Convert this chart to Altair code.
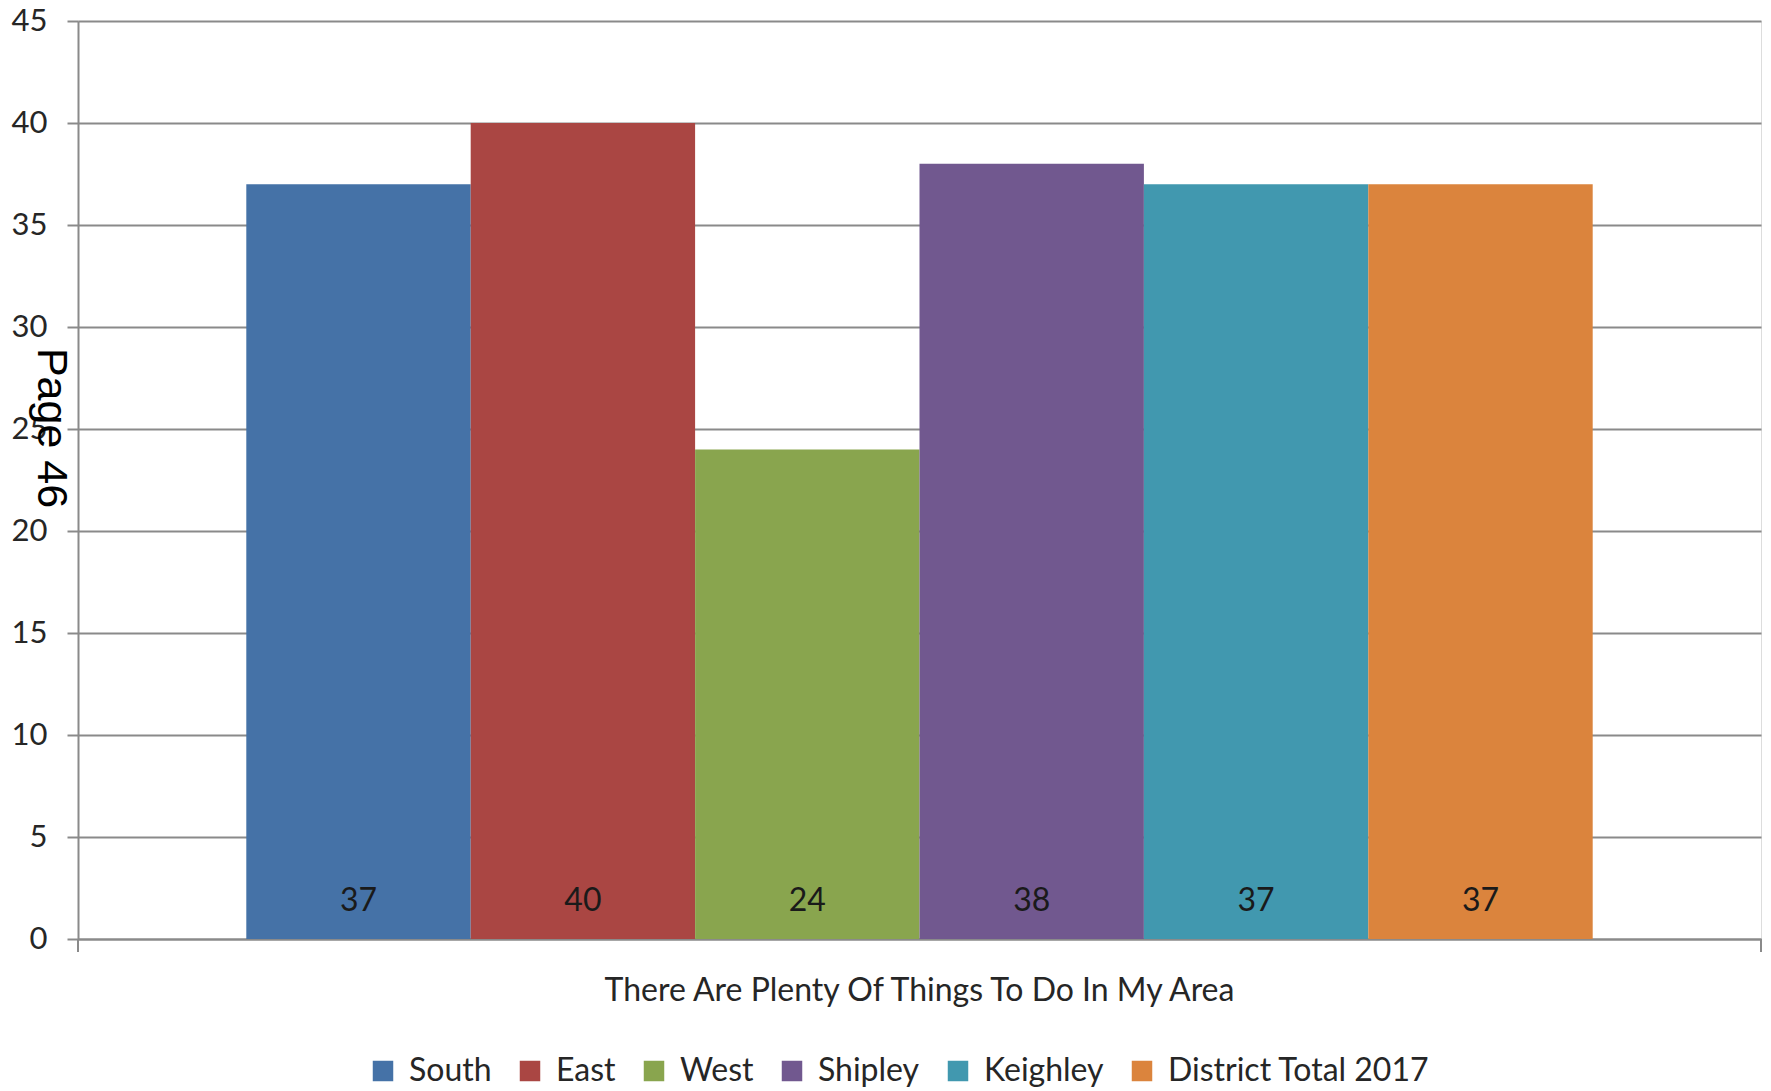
import altair as alt
import pandas as pd

# Survey results: share agreeing with the statement, by constituency area
question = "There Are Plenty Of Things To Do In My Area"
areas = ["South", "East", "West", "Shipley", "Keighley", "District Total 2017"]
values = [37, 40, 24, 38, 37, 37]
colors = ["#4572A7", "#AA4643", "#89A54E", "#71588F", "#4198AF", "#DB843D"]
y_ticks = [0, 5, 10, 15, 20, 25, 30, 35, 40, 45]

FONT = "Lato, Liberation Sans, sans-serif"
GRID = "#8a8a8a"
TEXT = "#262626"

W, H = 1683, 918

df = pd.DataFrame({"question": question, "area": areas, "value": values})
df["base"] = 0

base = alt.Chart(df).encode(
    x=alt.X(
        "question:N",
        scale=alt.Scale(paddingInner=0, paddingOuter=0),
        axis=alt.Axis(
            title=None,
            ticks=False,
            labelFontSize=32,
            labelFont=FONT,
            labelColor=TEXT,
            labelPadding=36,
            labelAngle=0,
            labelLimit=2000,
            domainColor=GRID,
            domainWidth=2,
        ),
    ),
    xOffset=alt.XOffset(
        "area:N", sort=areas, scale=alt.Scale(paddingInner=0, paddingOuter=0.75)
    ),
)

bars = base.mark_bar().encode(
    y=alt.Y(
        "value:Q",
        scale=alt.Scale(domain=[0, 45], nice=False),
        axis=alt.Axis(
            title=None,
            values=y_ticks,
            tickSize=11,
            tickColor=GRID,
            tickWidth=2,
            labelFontSize=31,
            labelFont=FONT,
            labelColor=TEXT,
            labelPadding=20,
            grid=True,
            gridColor=GRID,
            gridWidth=2,
            domainColor=GRID,
            domainWidth=2,
        ),
    ),
    color=alt.Color(
        "area:N",
        sort=areas,
        scale=alt.Scale(domain=areas, range=colors),
        legend=alt.Legend(
            title=None,
            orient="none",
            direction="horizontal",
            legendX=289,
            legendY=1034,
            symbolType="square",
            symbolSize=420,
            symbolStrokeWidth=0,
            labelFontSize=32,
            labelFont=FONT,
            labelColor=TEXT,
            labelOffset=10,
            columnPadding=22,
            labelLimit=400,
        ),
    ),
)

labels = base.mark_text(
    baseline="alphabetic", dy=-28, fontSize=32, font=FONT, color="#1a1a1a"
).encode(
    y=alt.Y("base:Q"),
    text=alt.Text("value:Q"),
)

# small end ticks below the category axis
tick_data = pd.DataFrame({"k": [0]})
left_tick = alt.Chart(tick_data).mark_rule(color=GRID, strokeWidth=2).encode(
    x=alt.value(0), y=alt.value(H), y2=alt.value(H + 13)
)
right_tick = alt.Chart(tick_data).mark_rule(color=GRID, strokeWidth=2).encode(
    x=alt.value(W), y=alt.value(H), y2=alt.value(H + 13)
)

page = alt.Chart(pd.DataFrame({"t": ["Page 46"]})).mark_text(
    angle=90,
    align="center",
    baseline="alphabetic",
    fontSize=43,
    font="Liberation Sans, Arial, sans-serif",
    color="#000000",
).encode(text="t:N", x=alt.value(-40), y=alt.value(407))

chart = (
    alt.layer(bars, labels, left_tick, right_tick, page)
    .properties(
        width=W,
        height=H,
        autosize=alt.AutoSizeParams(type="none"),
        padding={"left": 78, "top": 21, "right": 10, "bottom": 152},
    )
    .configure_view(stroke=None)
    .configure(background="white")
)

chart.save("out.html", embed_options={"renderer": "svg", "actions": False})
